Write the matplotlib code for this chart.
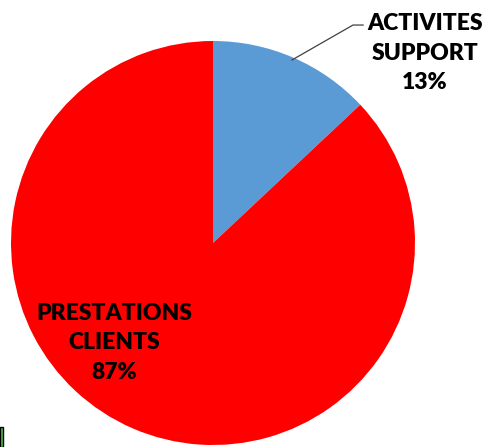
import matplotlib
matplotlib.use("Agg")
import matplotlib.pyplot as plt
from matplotlib.patches import Rectangle

# share of activity
labels = ["ACTIVITES\nSUPPORT", "PRESTATIONS\nCLIENTS"]
values = [13, 87]
colors = ["#5B9BD5", "#FF0000"]

W, H = 489, 447
fig = plt.figure(figsize=(W / 100, H / 100), dpi=100)
cx, cy, r = 213, 243, 202
ax = fig.add_axes([(cx - r) / W, (H - cy - r) / H, 2 * r / W, 2 * r / H])

ax.pie(values, colors=colors, startangle=90, counterclock=False, radius=1,
       wedgeprops=dict(linewidth=0))
ax.set_xlim(-1, 1)
ax.set_ylim(-1, 1)
ax.set_aspect("equal")
ax.axis("off")

font = dict(family="Lato", weight="heavy", fontsize=16.5, color="black",
            ha="center", va="center", linespacing=1.5)

ax.text(1.05, 0.94, f"{labels[0]}\n{values[0]}%", clip_on=False, **font)
ax.text(-0.49, -0.495, f"{labels[1]}\n{values[1]}%", **font)

# leader line for the small slice
ax.plot([0.391, 0.693, 0.743], [0.906, 1.079, 1.079], color="#404040",
        linewidth=0.9, clip_on=False)

# small green mark at the bottom-left corner
fig.patches.append(Rectangle((0, 0), 3 / W, 20 / H, transform=fig.transFigure,
                             facecolor="#4CC24C", edgecolor="black", linewidth=1))

fig.savefig("out.png", dpi=100)
